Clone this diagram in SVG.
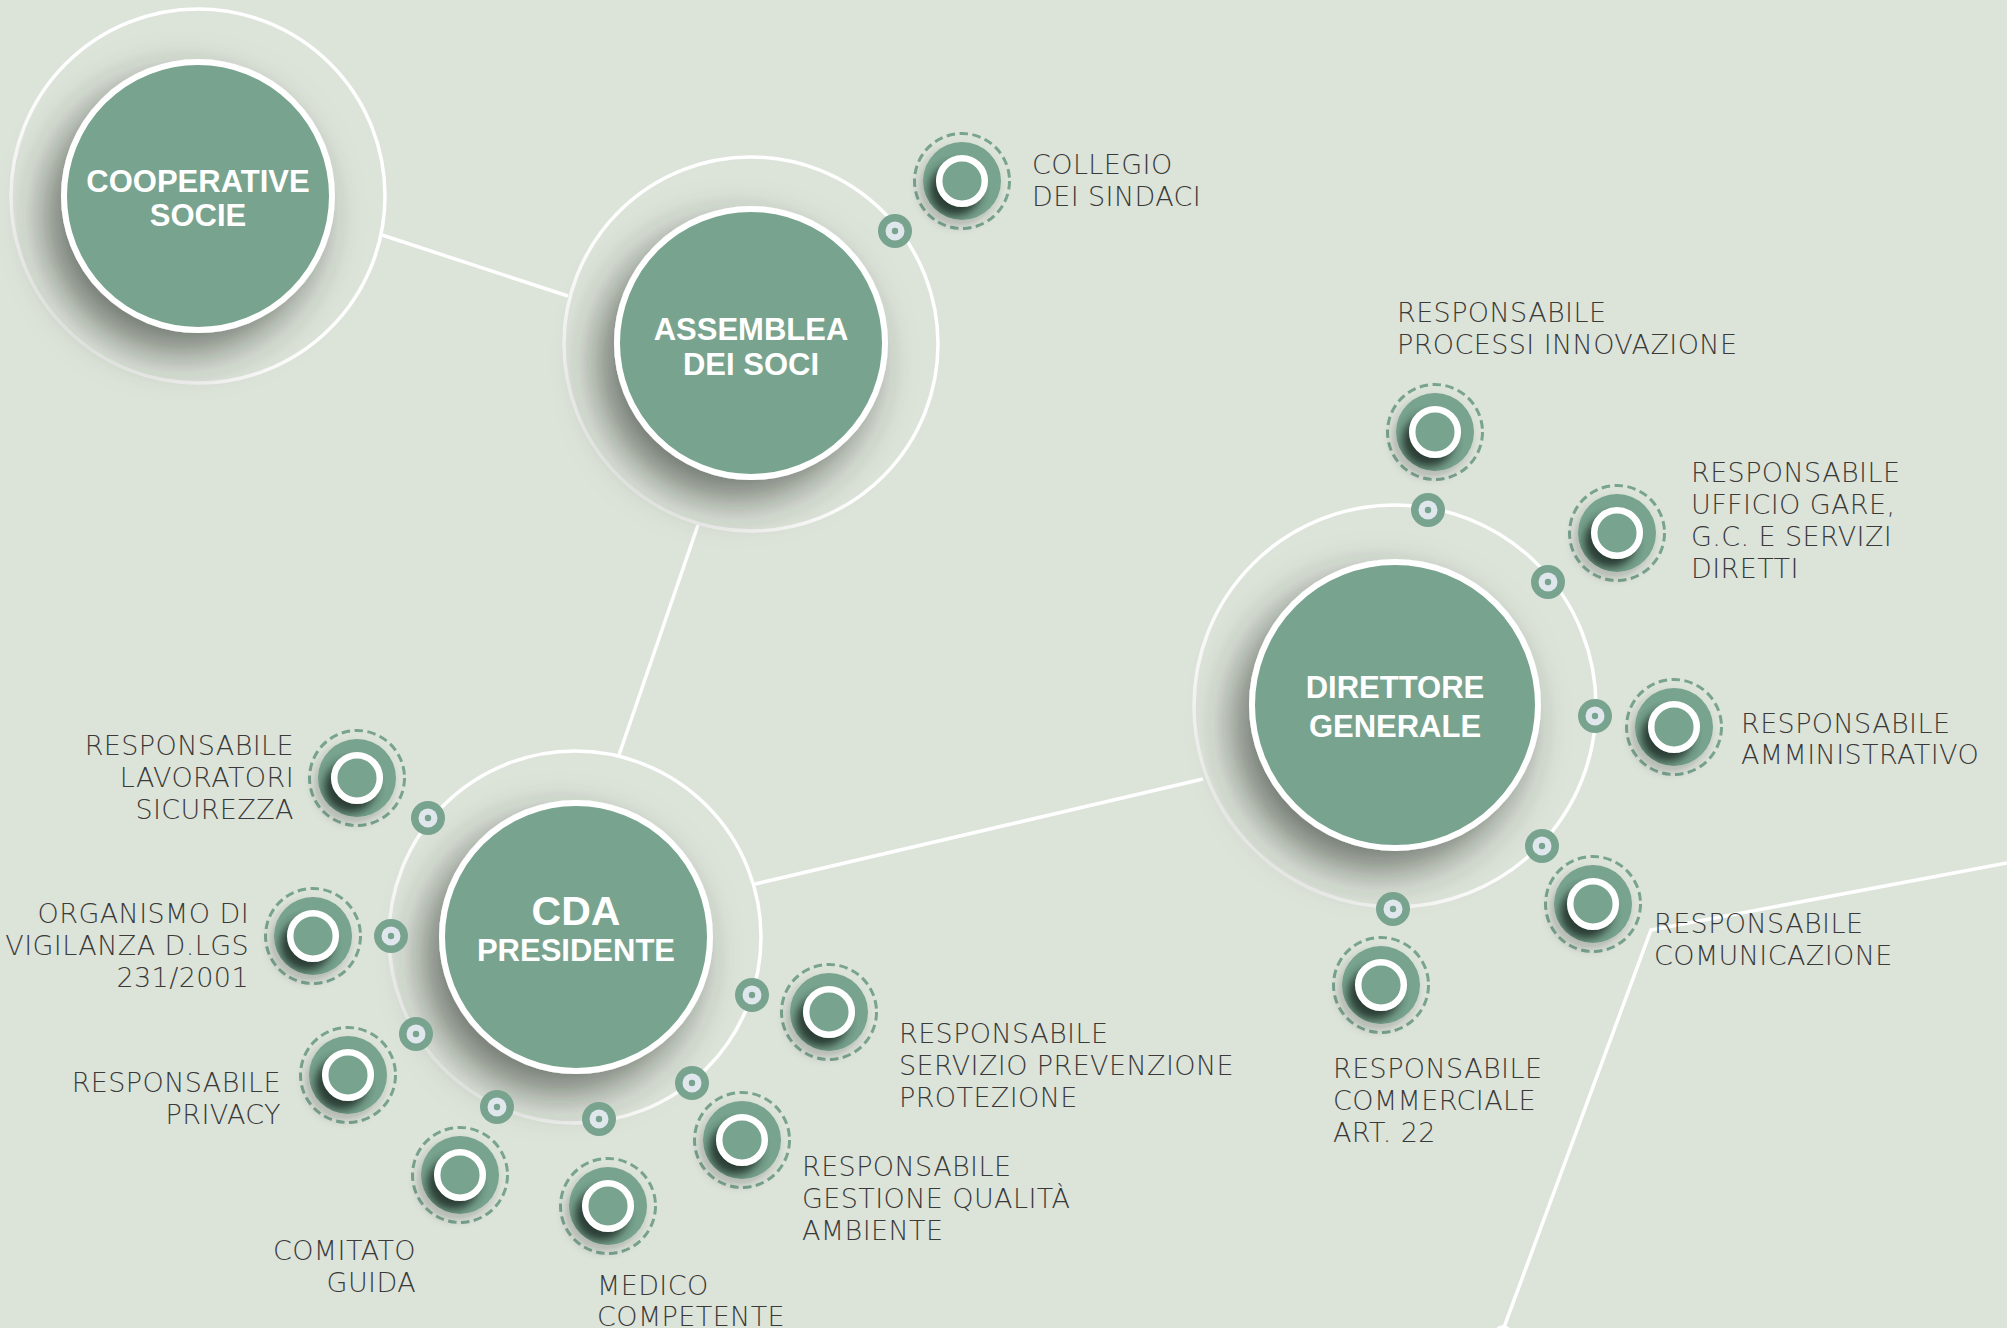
<svg xmlns="http://www.w3.org/2000/svg" xmlns:xlink="http://www.w3.org/1999/xlink" width="2007" height="1328" viewBox="0 0 2007 1328">
<defs>
<style>
.lbl{font-family:"DejaVu Sans","Liberation Sans",sans-serif;font-weight:200;font-size:27px;letter-spacing:0.4px;fill:#3a3a3a;}
.end{text-anchor:end;}
.ttl{font-family:"Liberation Sans",Arial,sans-serif;font-weight:700;font-size:31px;fill:#ffffff;text-anchor:middle;}
.conn{stroke:#ffffff;stroke-width:3.5;fill:none;}
.ring{fill:none;stroke:url(#rg);stroke-width:3.5;}
.core{fill:#78a38e;stroke:#ffffff;stroke-width:6;filter:url(#msh);}
</style>
<linearGradient id="rg" x1="1" y1="0" x2="0" y2="1">
<stop offset="0" stop-color="#ffffff"/>
<stop offset="0.55" stop-color="#ffffff"/>
<stop offset="1" stop-color="#e2e5e0"/>
</linearGradient>
<filter id="msh" x="-40%" y="-40%" width="180%" height="180%">
<feDropShadow dx="-16" dy="20" stdDeviation="20" flood-color="#2c342e" flood-opacity="0.6"/>
</filter>
<filter id="ssh" x="-50%" y="-50%" width="200%" height="200%">
<feDropShadow dx="-4" dy="6" stdDeviation="5" flood-color="#2c342e" flood-opacity="0.25"/>
</filter>
<filter id="b6" x="-60%" y="-60%" width="220%" height="220%">
<feGaussianBlur stdDeviation="5"/>
</filter>
<clipPath id="sc"><circle r="39"/></clipPath>
<g id="sat">
<circle r="47.5" fill="none" stroke="#78a38e" stroke-width="3" stroke-dasharray="8.5 4.5"/>
<circle r="39" fill="#78a38e" filter="url(#ssh)"/>
<g clip-path="url(#sc)"><circle cx="-7" cy="9" r="26" fill="#22302a" opacity="0.9" filter="url(#b6)"/></g>
<circle r="22.8" fill="#78a38e" stroke="#ffffff" stroke-width="6.5"/>
</g>
<g id="dot">
<circle r="17" fill="#78a38e"/>
<circle r="9.5" fill="#dfe6ec"/>
<circle r="3.2" fill="#78a38e"/>
</g>
</defs>
<rect x="0" y="0" width="2007" height="1328" fill="#dce3d9"/>

<g id="connectors">
<line class="conn" x1="382" y1="235" x2="568" y2="296"/>
<line class="conn" x1="698" y1="525" x2="619" y2="755"/>
<line class="conn" x1="755" y1="884" x2="1203" y2="779"/>
<polyline class="conn" points="2007,863 1651,930 1503,1330"/>
<circle cx="1503" cy="1334" r="9" fill="#ffffff"/>
</g>

<g id="n-cooperative">
<circle class="ring" cx="198" cy="196" r="187"/>
<circle class="core" cx="198" cy="196" r="134"/>
<text class="ttl" x="198" y="192">COOPERATIVE</text>
<text class="ttl" x="198" y="226">SOCIE</text>
</g>

<g id="n-assemblea">
<circle class="ring" cx="751" cy="344" r="187"/>
<circle class="core" cx="751" cy="343" r="134"/>
<text class="ttl" x="751" y="340">ASSEMBLEA</text>
<text class="ttl" x="751" y="375">DEI SOCI</text>
</g>

<g id="n-cda">
<circle class="ring" cx="575" cy="937" r="186"/>
<circle class="core" cx="576" cy="937" r="134"/>
<text class="ttl" x="576" y="925" style="font-size:41px">CDA</text>
<text class="ttl" x="576" y="961">PRESIDENTE</text>
</g>

<g id="n-direttore">
<circle class="ring" cx="1395" cy="706" r="201"/>
<circle class="core" cx="1395" cy="705" r="143"/>
<text class="ttl" x="1395" y="698">DIRETTORE</text>
<text class="ttl" x="1395" y="737">GENERALE</text>
</g>

<g id="s-collegio">
<use href="#dot" x="895" y="231"/>
<use href="#sat" x="962" y="181"/>
<text class="lbl" x="1032" y="174">COLLEGIO</text>
<text class="lbl" x="1032" y="206">DEI SINDACI</text>
</g>

<g id="s-processi">
<use href="#dot" x="1428" y="510"/>
<use href="#sat" x="1435" y="432"/>
<text class="lbl" x="1397" y="322">RESPONSABILE</text>
<text class="lbl" x="1397" y="354">PROCESSI INNOVAZIONE</text>
</g>

<g id="s-gare">
<use href="#dot" x="1548" y="582"/>
<use href="#sat" x="1617" y="533"/>
<text class="lbl" x="1691" y="482">RESPONSABILE</text>
<text class="lbl" x="1691" y="514">UFFICIO GARE,</text>
<text class="lbl" x="1691" y="546">G.C. E SERVIZI</text>
<text class="lbl" x="1691" y="578">DIRETTI</text>
</g>

<g id="s-amministrativo">
<use href="#dot" x="1595" y="716"/>
<use href="#sat" x="1674" y="727"/>
<text class="lbl" x="1741" y="733">RESPONSABILE</text>
<text class="lbl" x="1741" y="764">AMMINISTRATIVO</text>
</g>

<g id="s-comunicazione">
<use href="#dot" x="1542" y="846"/>
<use href="#sat" x="1593" y="904"/>
<text class="lbl" x="1654" y="933">RESPONSABILE</text>
<text class="lbl" x="1654" y="965">COMUNICAZIONE</text>
</g>

<g id="s-commerciale">
<use href="#dot" x="1393" y="909"/>
<use href="#sat" x="1381" y="985"/>
<text class="lbl" x="1333" y="1078">RESPONSABILE</text>
<text class="lbl" x="1333" y="1110">COMMERCIALE</text>
<text class="lbl" x="1333" y="1142">ART. 22</text>
</g>

<g id="s-lavoratori">
<use href="#dot" x="428" y="818"/>
<use href="#sat" x="357" y="778"/>
<text class="lbl end" x="294" y="755">RESPONSABILE</text>
<text class="lbl end" x="294" y="787">LAVORATORI</text>
<text class="lbl end" x="294" y="819">SICUREZZA</text>
</g>

<g id="s-organismo">
<use href="#dot" x="391" y="936"/>
<use href="#sat" x="313" y="936"/>
<text class="lbl end" x="249" y="923">ORGANISMO DI</text>
<text class="lbl end" x="249" y="955">VIGILANZA D.LGS</text>
<text class="lbl end" x="249" y="987">231/2001</text>
</g>

<g id="s-privacy">
<use href="#dot" x="416" y="1034"/>
<use href="#sat" x="348" y="1075"/>
<text class="lbl end" x="281" y="1092">RESPONSABILE</text>
<text class="lbl end" x="281" y="1124">PRIVACY</text>
</g>

<g id="s-comitato">
<use href="#dot" x="497" y="1107"/>
<use href="#sat" x="460" y="1175"/>
<text class="lbl end" x="416" y="1260">COMITATO</text>
<text class="lbl end" x="416" y="1292">GUIDA</text>
</g>

<g id="s-medico">
<use href="#dot" x="599" y="1119"/>
<use href="#sat" x="608" y="1206"/>
<text class="lbl" x="597" y="1295">MEDICO</text>
<text class="lbl" x="597" y="1326">COMPETENTE</text>
</g>

<g id="s-qualita">
<use href="#dot" x="692" y="1083"/>
<use href="#sat" x="742" y="1140"/>
<text class="lbl" x="802" y="1176">RESPONSABILE</text>
<text class="lbl" x="802" y="1208">GESTIONE QUALITÀ</text>
<text class="lbl" x="802" y="1240">AMBIENTE</text>
</g>

<g id="s-prevenzione">
<use href="#dot" x="752" y="995"/>
<use href="#sat" x="829" y="1012"/>
<text class="lbl" x="899" y="1043">RESPONSABILE</text>
<text class="lbl" x="899" y="1075">SERVIZIO PREVENZIONE</text>
<text class="lbl" x="899" y="1107">PROTEZIONE</text>
</g>
</svg>
